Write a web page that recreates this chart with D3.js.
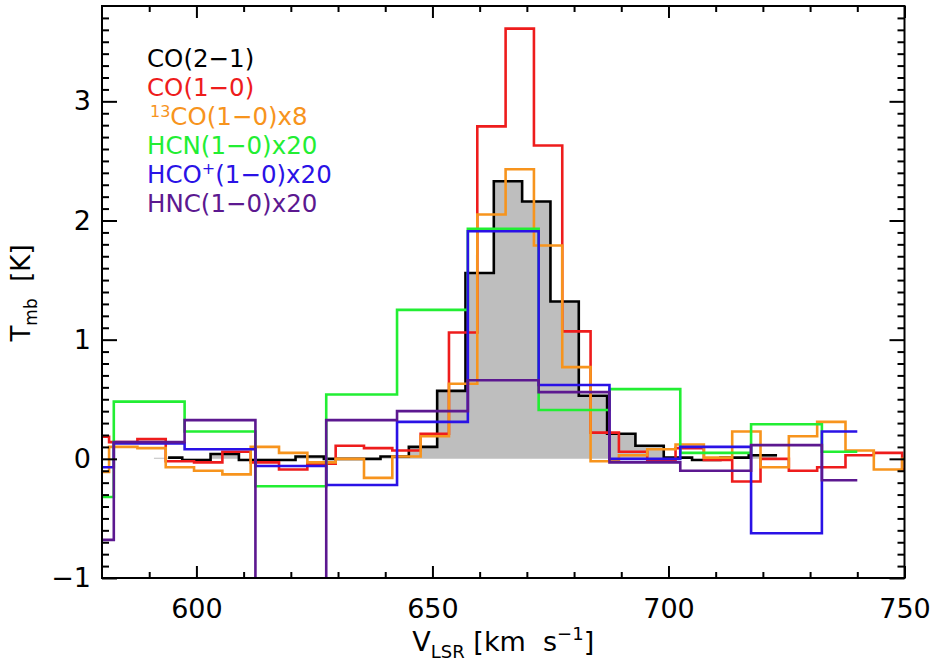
<html>

<head>
    <meta charset="utf-8">
    <style>
        /* plain white page, chart fills the window */
        body {
            margin: 0;
            background: #fff;
        }

        #chart text {
            font-family: "DejaVu Sans", "Liberation Sans", sans-serif;
        }
    </style>
</head>

<body>
    <svg id="chart" width="937" height="669"></svg>

    <script src="https://d3js.org/d3.v7.min.js"></script>
    <script type="text/javascript">
        // Channel edges (km/s) and brightness (K), one pair per line
        const co21Edges = [594, 597, 603, 609, 615, 621, 627, 633, 639, 645, 651, 657, 663, 669, 675, 681, 687, 693, 699, 705, 711, 717, 723];
        const co21Tmb = [0.01, -0.01, 0.04, -0.01, -0.01, 0.02, 0.0, 0.0, 0.02, 0.10, 0.57, 1.56, 2.33, 2.16, 1.32, 0.53, 0.21, 0.11, 0.01, -0.01, 0.01, 0.03];
        const co21FillStart = 591;

        const co10Edges = [580, 581.5, 587.5, 593.5, 599.5, 605.5, 611.5, 617.5, 623.5, 629.5, 635.5, 641.5, 647.5, 653.5, 659.5, 665.5, 671.5, 677.5, 683.5, 689.5, 695.5, 701.5, 707.5, 713.5, 719.5, 725.5, 731.5, 737.5, 743.5, 749.5, 750];
        const co10Tmb = [0.185, 0.14, 0.165, -0.02, -0.03, 0.06, -0.03, -0.09, -0.04, 0.11, 0.09, 0.07, 0.21, 1.06, 2.79, 3.61, 2.63, 1.07, 0.22, 0.06, -0.01, 0.09, -0.01, -0.19, 0.0, -0.10, -0.07, 0.03, 0.05, -0.09];

        const co13Edges = co10Edges;
        const co13Tmb = [-0.11, 0.10, 0.09, -0.07, -0.10, -0.13, 0.10, 0.05, -0.03, 0.0, -0.16, 0.02, 0.19, 0.63, 2.05, 2.43, 1.79, 0.77, -0.02, 0.03, 0.08, 0.12, 0.01, 0.23, -0.07, 0.19, 0.31, 0.07, -0.09, 0.0];

        // the three dense-gas lines share coarser 15 km/s channels
        const denseEdges = [580, 582.5, 597.5, 612.5, 627.5, 642.5, 657.5, 672.5, 687.5, 702.5, 717.5, 732.5, 740];
        const hcnTmb = [-0.32, 0.48, 0.23, -0.23, 0.54, 1.25, 1.93, 0.41, 0.585, 0.05, 0.29, 0.06];
        const hcopTmb = [-0.07, 0.13, 0.08, -0.06, -0.22, 0.31, 1.91, 0.62, 0.0, 0.10, -0.625, 0.23];
        const hncTmb = [-0.68, 0.14, 0.325, -1.3, 0.325, 0.40, 0.66, 0.56, -0.03, -0.10, 0.115, -0.18];

        const xMajor = [600, 650, 700, 750];
        const xMinor = [590, 610, 620, 630, 640, 660, 670, 680, 690, 710, 720, 730, 740];
        const yMajor = [-1, 0, 1, 2, 3];

        const series = [
            { edges: co21Edges, tmb: co21Tmb, color: '#000000' },
            { edges: co10Edges, tmb: co10Tmb, color: '#ee1c1c' },
            { edges: co13Edges, tmb: co13Tmb, color: '#f7941d' },
            { edges: denseEdges, tmb: hcnTmb, color: '#22ee33' },
            { edges: denseEdges, tmb: hcopTmb, color: '#2a12e6' },
            { edges: denseEdges, tmb: hncTmb, color: '#5c1890' }
        ];

        const pLeft = 102, pRight = 904.5, pTop = 6, pBottom = 578;

        const x = d3.scaleLinear().domain([580, 750]).range([pLeft, pRight]);
        const y = d3.scaleLinear().domain([-1, 3.8]).range([pBottom, pTop]);

        const svg = d3.select('#chart');

        svg.append('clipPath').attr('id', 'plot-clip')
            .append('rect')
            .attr('x', pLeft).attr('y', pTop)
            .attr('width', pRight - pLeft).attr('height', pBottom - pTop);

        // turn edges + values into step points (last value repeated at the closing edge)
        function steps(edges, tmb) {
            const pts = tmb.map((t, i) => [edges[i], t]);
            pts.push([edges[edges.length - 1], tmb[tmb.length - 1]]);
            return pts;
        }

        const plot = svg.append('g').attr('clip-path', 'url(#plot-clip)');

        // grey shaded CO(2-1) profile
        const fillPts = steps(co21Edges, co21Tmb);
        fillPts[0] = [co21FillStart, fillPts[0][1]];
        plot.append('path')
            .datum(fillPts)
            .attr('fill', '#bebebe')
            .attr('d', d3.area().curve(d3.curveStepAfter)
                .x(d => x(d[0])).y0(y(0)).y1(d => y(d[1])));

        const line = d3.line().curve(d3.curveStepAfter).x(d => x(d[0])).y(d => y(d[1]));

        series.forEach(s => {
            plot.append('path')
                .datum(steps(s.edges, s.tmb))
                .attr('fill', 'none')
                .attr('stroke', s.color)
                .attr('stroke-width', 2.6)
                .attr('d', line);
        });

        // axes: ticks point inward on all four sides
        const ax = svg.append('g');

        ax.append('g').attr('transform', `translate(0,${pBottom})`)
            .call(d3.axisBottom(x).tickValues(xMajor).tickSize(-12).tickPadding(21).tickFormat(d3.format('d')));
        ax.append('g').attr('transform', `translate(0,${pBottom})`)
            .call(d3.axisBottom(x).tickValues(xMinor).tickSize(-6).tickFormat(''));
        ax.append('g').attr('transform', `translate(0,${pTop})`)
            .call(d3.axisTop(x).tickValues(xMajor).tickSize(-12).tickFormat(''));
        ax.append('g').attr('transform', `translate(0,${pTop})`)
            .call(d3.axisTop(x).tickValues(xMinor).tickSize(-6).tickFormat(''));

        const yMinor = d3.range(-9, 38).map(v => v / 10).filter(v => !Number.isInteger(v));
        ax.append('g').attr('transform', `translate(${pLeft},0)`)
            .call(d3.axisLeft(y).tickValues(yMajor).tickSize(-15).tickPadding(11).tickFormat(d3.format('d')));
        ax.append('g').attr('transform', `translate(${pLeft},0)`)
            .call(d3.axisLeft(y).tickValues(yMinor).tickSize(-7).tickFormat(''));
        ax.append('g').attr('transform', `translate(${pRight},0)`)
            .call(d3.axisRight(y).tickValues(yMajor).tickSize(-15).tickFormat(''));
        ax.append('g').attr('transform', `translate(${pRight},0)`)
            .call(d3.axisRight(y).tickValues(yMinor).tickSize(-7).tickFormat(''));

        ax.selectAll('.domain').remove();
        ax.selectAll('.tick line').attr('stroke', '#000').attr('stroke-width', 2);
        ax.selectAll('.tick text')
            .attr('fill', '#000')
            .style('font-size', '27px')
            .style('font-family', '"DejaVu Sans", sans-serif');

        svg.append('rect')
            .attr('x', pLeft).attr('y', pTop)
            .attr('width', pRight - pLeft).attr('height', pBottom - pTop)
            .attr('fill', 'none').attr('stroke', '#000').attr('stroke-width', 2);

        // axis titles
        const xt = svg.append('text')
            .attr('x', (pLeft + pRight) / 2).attr('y', 651)
            .attr('text-anchor', 'middle').attr('font-size', 27);
        xt.append('tspan').text('V');
        xt.append('tspan').attr('font-size', 18).attr('dy', 7).text('LSR');
        xt.append('tspan').attr('dy', -7).text('\u00a0[km\u00a0\u00a0s');
        xt.append('tspan').attr('font-size', 18).attr('dy', -11).text('\u22121');
        xt.append('tspan').attr('dy', 11).text(']');

        const yt = svg.append('text')
            .attr('transform', `translate(30,293) rotate(-90)`)
            .attr('text-anchor', 'middle').attr('font-size', 26);
        yt.append('tspan').text('T');
        yt.append('tspan').attr('font-size', 17).attr('dy', 7).text('mb');
        yt.append('tspan').attr('dy', -7).text('\u00a0\u00a0[K]');

        // legend
        const legend = svg.append('g').attr('font-size', 24.5);
        const lx = 147, ly = 67, lstep = 29;

        legend.append('text').attr('x', lx).attr('y', ly).attr('fill', '#000').text('CO(2\u22121)');
        legend.append('text').attr('x', lx).attr('y', ly + lstep).attr('fill', '#ee1c1c').text('CO(1\u22120)');

        const l13 = legend.append('text').attr('x', lx + 3).attr('y', ly + 2 * lstep).attr('fill', '#f7941d');
        l13.append('tspan').attr('font-size', 16).attr('dy', -8).text('13');
        l13.append('tspan').attr('dy', 8).text('CO(1\u22120)x8');

        legend.append('text').attr('x', lx).attr('y', ly + 3 * lstep).attr('fill', '#22ee33').text('HCN(1\u22120)x20');

        const lhco = legend.append('text').attr('x', lx).attr('y', ly + 4 * lstep).attr('fill', '#2a12e6');
        lhco.append('tspan').text('HCO');
        lhco.append('tspan').attr('font-size', 16).attr('dy', -9).text('+');
        lhco.append('tspan').attr('dy', 9).text('(1\u22120)x20');

        legend.append('text').attr('x', lx).attr('y', ly + 5 * lstep).attr('fill', '#5c1890').text('HNC(1\u22120)x20');
    </script>
</body>

</html>
